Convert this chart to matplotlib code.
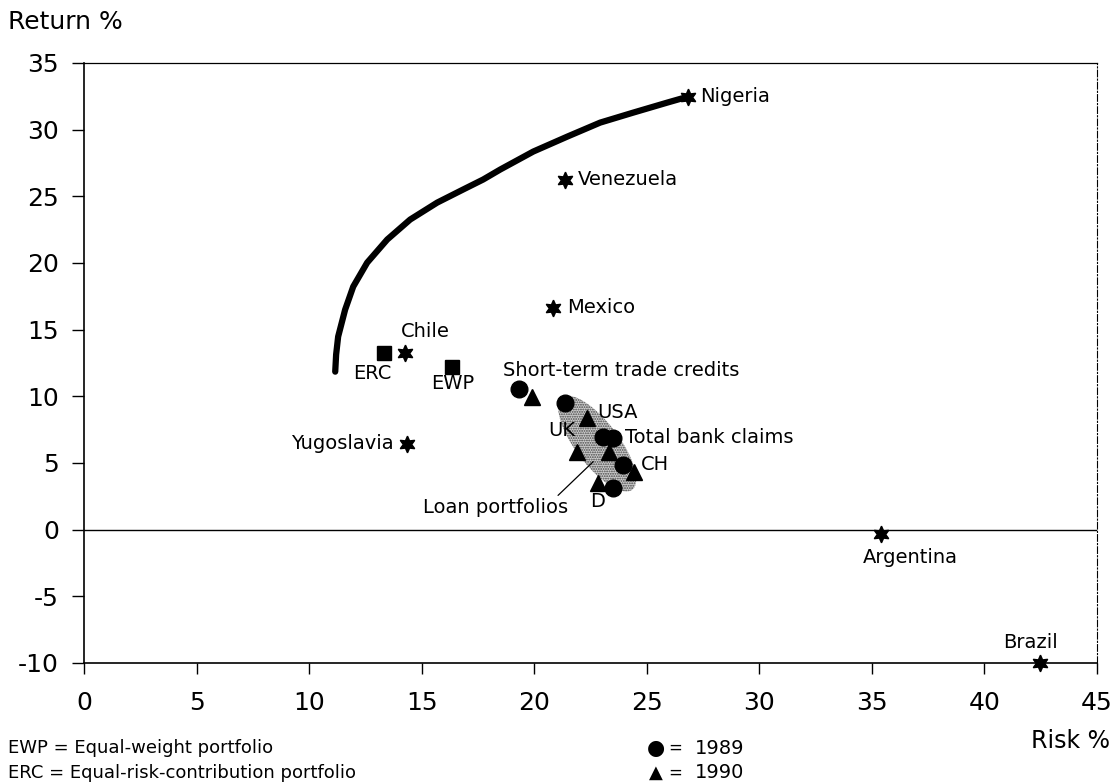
import numpy as np
import matplotlib
matplotlib.use('Agg')
import matplotlib.pyplot as plt
from matplotlib.patches import Polygon

plt.rcParams['font.family'] = ['DejaVu Sans']
plt.rcParams['axes.unicode_minus'] = False
plt.rcParams['hatch.linewidth'] = 0.9
plt.rcParams['hatch.color'] = '#444444'

# countries (star markers)
countries = ['Nigeria', 'Venezuela', 'Mexico', 'Chile', 'Yugoslavia', 'Argentina', 'Brazil']
country_risk = [26.84, 21.38, 20.84, 14.27, 14.36, 35.42, 42.49]
country_return = [32.48, 26.26, 16.65, 13.28, 6.45, -0.3, -10.0]

# portfolios (squares)
portfolios = ['ERC', 'EWP']
portfolio_risk = [13.33, 16.36]
portfolio_return = [13.28, 12.23]

# bank portfolios 1989 (circles) and 1990 (triangles)
# order: short-term credits, top cluster, total bank claims, total bank claims 2, CH, D
risk_1989 = [19.33, 21.38, 23.07, 23.5, 23.96, 23.51]
return_1989 = [10.58, 9.53, 6.98, 6.9, 4.88, 3.15]
# order: short-term credits, USA, total bank claims, UK, CH, D
risk_1990 = [19.91, 22.36, 23.33, 21.91, 24.44, 22.84]
return_1990 = [9.98, 8.4, 5.85, 5.85, 4.35, 3.53]

# efficient frontier
frontier_risk = [11.16, 11.2, 11.29, 11.6, 11.96, 12.58, 13.47, 14.49, 15.69, 16.84,
                 17.73, 18.49, 19.96, 21.47, 22.93, 24.4, 25.91, 26.84]
frontier_return = [11.85, 13.13, 14.48, 16.5, 18.23, 20.03, 21.76, 23.26, 24.53, 25.51,
                   26.26, 27.01, 28.36, 29.48, 30.53, 31.28, 32.03, 32.48]

# shaded loan-portfolio zone (ellipse: centre, half axes as vectors)
loan_center = (22.8, 6.45)
loan_major = (1.556, -3.45)
loan_minor = (0.76, 0.98)

x_ticks = list(range(0, 50, 5))
y_ticks = list(range(-10, 40, 5))

W, H = 1119, 783
fig = plt.figure(figsize=(W / 100, H / 100), dpi=100)
ax = fig.add_axes([84 / W, 1 - 663 / H, (1097 - 84) / W, 600 / H])
ax.set_xlim(0, 45)
ax.set_ylim(-10, 35)

# loan zone
t = np.linspace(0, 2 * np.pi, 100)
zx = loan_center[0] + np.cos(t) * loan_major[0] + np.sin(t) * loan_minor[0]
zy = loan_center[1] + np.cos(t) * loan_major[1] + np.sin(t) * loan_minor[1]
ax.add_patch(Polygon(np.column_stack([zx, zy]), closed=True, facecolor='#cfcfcf',
                     edgecolor='#444444', hatch='.......', lw=0, zorder=1))

ax.axhline(0, color='black', lw=1.0, zorder=1)
ax.plot(frontier_risk, frontier_return, color='black', lw=4.5,
        solid_capstyle='round', solid_joinstyle='round', zorder=2)

ax.plot(country_risk, country_return, ls='none', marker=(6, 1, 0), ms=12,
        color='black', zorder=3, clip_on=False)
ax.plot(portfolio_risk, portfolio_return, ls='none', marker='s', ms=10,
        color='black', zorder=3)
ax.plot(risk_1989, return_1989, ls='none', marker='o', ms=12, color='black', zorder=3)
ax.plot(risk_1990, return_1990, ls='none', marker='^', ms=11, color='black', zorder=3)

lab = dict(fontsize=14, color='black', textcoords='offset pixels')

country_offsets = {
    'Nigeria': ((12, 0), 'left'),
    'Venezuela': ((13, 0), 'left'),
    'Mexico': ((14, 0), 'left'),
    'Chile': ((20, 21), 'center'),
    'Yugoslavia': ((-14, 0), 'right'),
    'Argentina': ((29, -24), 'center'),
    'Brazil': ((-10, 20), 'center'),
}
for name, xr, yr in zip(countries, country_risk, country_return):
    off, ha = country_offsets[name]
    ax.annotate(name, (xr, yr), xytext=off, ha=ha, va='center', **lab)

portfolio_offsets = {'ERC': (-12, -21), 'EWP': (0, -17)}
for name, xr, yr in zip(portfolios, portfolio_risk, portfolio_return):
    ax.annotate(name, (xr, yr), xytext=portfolio_offsets[name], ha='center', va='center', **lab)

ax.annotate('Short-term trade credits', (risk_1989[0], return_1989[0]), xytext=(-16, 18),
            ha='left', va='center', **lab)
ax.annotate('Total bank claims', (risk_1989[3], return_1989[3]), xytext=(12, 0),
            ha='left', va='center', **lab)
ax.annotate('USA', (risk_1990[1], return_1990[1]), xytext=(10, 5), ha='left', va='center', **lab)
ax.annotate('UK', (risk_1990[3], return_1990[3]), xytext=(-2, 21), ha='right', va='center', **lab)
ax.annotate('CH', (risk_1990[4], return_1990[4]), xytext=(7, 7), ha='left', va='center', **lab)
ax.annotate('D', (risk_1990[5], return_1990[5]), xytext=(-1, -19), ha='center', va='center', **lab)

ax.annotate('Loan portfolios', xy=(22.62, 5.1), xytext=(21.51, 1.65), textcoords='data',
            ha='right', va='center', fontsize=14,
            arrowprops=dict(arrowstyle='-', lw=0.9, color='black', relpos=(0.91, 1.0),
                            shrinkA=0, shrinkB=0))

# frame
for side in ['left', 'bottom']:
    ax.spines[side].set_linewidth(1.2)
ax.spines['top'].set_linewidth(0.9)
ax.spines['right'].set_linewidth(0.8)
ax.spines['right'].set_linestyle((0, (6, 2, 1, 2)))

ax.set_xticks(x_ticks)
ax.set_yticks(y_ticks)
ax.set_xticklabels([str(v) for v in x_ticks])
ax.set_yticklabels([str(v) for v in y_ticks])
ax.tick_params(axis='x', direction='out', length=8, width=1, pad=12, labelsize=18)
ax.tick_params(axis='y', direction='out', length=9, width=1, pad=9, labelsize=18)

fig.text(8 / W, 1 - 22 / H, 'Return %', fontsize=18, ha='left', va='center')
fig.text(1110 / W, 1 - 741 / H, 'Risk %', fontsize=17, ha='right', va='center')

fig.text(8 / W, 1 - 748 / H, 'EWP = Equal-weight portfolio', fontsize=13, ha='left', va='center')
fig.text(8 / W, 1 - 773 / H, 'ERC = Equal-risk-contribution portfolio', fontsize=13,
         ha='left', va='center')
fig.text(656 / W, 1 - 748 / H, '●', fontsize=15, ha='center', va='center')
fig.text(656 / W, 1 - 773 / H, '▲', fontsize=13, ha='center', va='center')
for yy, yr in [(748, '1989'), (773, '1990')]:
    fig.text(675 / W, 1 - yy / H, '=', fontsize=12, ha='center', va='center')
    fig.text(695 / W, 1 - yy / H, yr, fontsize=14, ha='left', va='center')

fig.savefig('out.png', dpi=100)
